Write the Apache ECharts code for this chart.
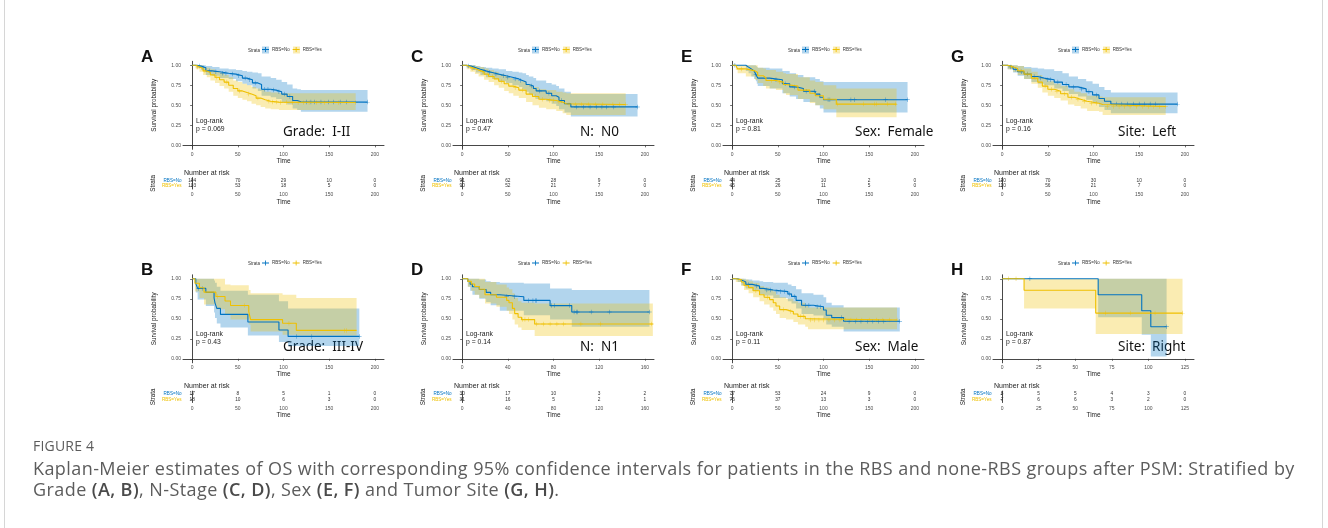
<!DOCTYPE html>
<html>
<head>
<meta charset="utf-8">
<title>Figure 4 - Kaplan-Meier OS after PSM</title>
<script src="https://cdn.jsdelivr.net/npm/echarts@6/dist/echarts.min.js"></script>
<style>
body{margin:0;background:#fff;}
#wrap{position:relative;width:1328px;height:528px;overflow:hidden;}
#main{position:absolute;left:0;top:0;width:1328px;height:528px;}
#frame{position:absolute;left:4px;top:-4px;width:1319px;height:545px;border:1px solid #d6d6d6;border-radius:4px;box-sizing:border-box;}
#caption{position:absolute;left:33px;top:436px;font-family:"Open Sans",sans-serif;color:#5c5c5c;white-space:nowrap;}
#caption .fig{font-size:14px;letter-spacing:0.2px;line-height:20px;}
#caption .txt{font-size:18px;letter-spacing:0.42px;line-height:20.5px;margin-top:2px;}
#caption b{font-weight:600;color:#4a4a4a;}
</style>
</head>
<body>
<div id="wrap">
  <div id="frame"></div>
  <div id="main"></div>
  <div id="caption">
    <div class="fig">FIGURE 4</div>
    <div class="txt">Kaplan-Meier estimates of OS with corresponding 95% confidence intervals for patients in the RBS and none-RBS groups after PSM: Stratified by<br>Grade <b>(A, B)</b>, N-Stage <b>(C, D)</b>, Sex <b>(E, F)</b> and Tumor Site <b>(G, H)</b>.</div>
  </div>
</div>
<script>
// ---- data ----
var strata = ['RBS=No', 'RBS=Yes'];
var ticks200 = [0, 50, 100, 150, 200];
var ticks160 = [0, 40, 80, 120, 160];
var ticks125 = [0, 25, 50, 75, 100, 125];
var yTicks = [0, 0.25, 0.5, 0.75, 1];
var panelKeys = ['A', 'B', 'C', 'D', 'E', 'F', 'G', 'H'];
var groupLabels = ['Grade:  I-II', 'Grade:  III-IV', 'N:  N0', 'N:  N1', 'Sex:  Female', 'Sex:  Male', 'Site:  Left', 'Site:  Right'];
var pValues = ['p = 0.069', 'p = 0.43', 'p = 0.47', 'p = 0.14', 'p = 0.81', 'p = 0.11', 'p = 0.16', 'p = 0.87'];

// A: Grade I-II
var A_no = [[0,1],[5,0.99],[10,0.97],[15,0.93],[22,0.92],[30,0.90],[40,0.89],[48,0.87],[55,0.84],[60,0.82],[66,0.78],[72,0.76],[76,0.70],[86,0.69],[92,0.67],[98,0.64],[104,0.61],[110,0.56],[115,0.545],[119,0.54],[192,0.54]];
var A_noCens = [8,12,19,26,33,37,44,51,58,63,69,79,83,89,95,101,107,125,130,134,141,149,155,162,169,192];
var A_noCI = [[5,0.97,1],[10,0.94,1],[15,0.88,0.99],[22,0.87,0.98],[30,0.84,0.96],[40,0.83,0.95],[48,0.80,0.94],[55,0.77,0.93],[60,0.75,0.92],[66,0.71,0.91],[72,0.68,0.90],[76,0.62,0.86],[86,0.60,0.84],[92,0.58,0.82],[98,0.54,0.79],[104,0.51,0.76],[110,0.46,0.71],[115,0.44,0.70],[119,0.42,0.69],[192,0.42,0.69]];
var A_yes = [[0,1],[4,0.98],[8,0.96],[12,0.93],[16,0.91],[20,0.88],[25,0.85],[30,0.82],[35,0.79],[40,0.75],[45,0.71],[50,0.68],[55,0.66],[60,0.64],[65,0.62],[70,0.59],[75,0.57],[80,0.55],[86,0.54],[95,0.535],[179,0.535]];
var A_yesCens = [6,14,27,38,52,62,72,84,88,92,97,103,110,116,122,128,136,145,160,179];
var A_yesCI = [[4,0.95,1],[8,0.92,1],[12,0.88,0.98],[16,0.85,0.97],[20,0.81,0.95],[25,0.78,0.93],[30,0.74,0.91],[35,0.71,0.88],[40,0.67,0.85],[45,0.62,0.81],[50,0.59,0.79],[55,0.57,0.77],[60,0.55,0.75],[65,0.52,0.73],[70,0.50,0.71],[75,0.48,0.69],[80,0.46,0.67],[86,0.45,0.66],[95,0.44,0.65],[179,0.44,0.65]];
var A_riskNo = [104,70,29,10,0];
var A_riskYes = [103,53,18,5,0];

// B: Grade III-IV
var B_no = [[0,1],[4,0.94],[6,0.88],[15,0.83],[24,0.76],[25,0.70],[27,0.63],[31,0.555],[61,0.46],[95,0.36],[105,0.28],[183,0.28]];
var B_noCens = [7,11,114,131,183];
var B_noCI = [[4,0.83,1],[6,0.74,1],[15,0.66,1],[24,0.58,0.98],[25,0.51,0.95],[27,0.44,0.90],[31,0.39,0.85],[61,0.29,0.80],[95,0.21,0.72],[105,0.16,0.63],[183,0.16,0.63]];
var B_yes = [[0,1],[3,0.944],[8,0.889],[13,0.833],[26,0.778],[36,0.722],[42,0.667],[62,0.59],[64,0.49],[99,0.445],[114,0.355],[180,0.355]];
var B_yesCens = [28,57,106,167,169];
var B_yesCI = [[3,0.84,1],[8,0.76,1],[13,0.68,1],[26,0.62,1],[36,0.55,0.93],[42,0.49,0.92],[62,0.43,0.86],[64,0.34,0.82],[99,0.30,0.80],[114,0.29,0.76],[180,0.29,0.76]];
var B_riskNo = [17,8,5,1,0];
var B_riskYes = [18,10,6,3,0];

// C: N0
var C_no = [[0,1],[5,0.99],[10,0.97],[15,0.95],[20,0.93],[26,0.91],[33,0.89],[40,0.87],[48,0.85],[55,0.83],[62,0.81],[66,0.79],[70,0.76],[73,0.74],[78,0.71],[81,0.68],[92,0.65],[98,0.62],[103,0.60],[106,0.56],[112,0.52],[119,0.48],[192,0.48]];
var C_noCens = [7,13,24,30,37,45,50,58,64,76,85,95,109,125,133,140,147,153,158,166,192];
var C_noCI = [[5,0.97,1],[10,0.94,1],[15,0.91,0.99],[20,0.88,0.98],[26,0.85,0.97],[33,0.83,0.96],[40,0.80,0.95],[48,0.78,0.93],[55,0.75,0.92],[62,0.73,0.91],[66,0.70,0.90],[70,0.67,0.88],[73,0.64,0.86],[78,0.61,0.84],[81,0.58,0.81],[92,0.55,0.78],[98,0.52,0.76],[103,0.49,0.74],[106,0.45,0.71],[112,0.41,0.67],[119,0.36,0.64],[192,0.36,0.64]];
var C_yes = [[0,1],[5,0.98],[9,0.96],[14,0.94],[18,0.92],[24,0.89],[29,0.86],[35,0.83],[40,0.80],[46,0.77],[51,0.74],[56,0.72],[62,0.69],[70,0.64],[77,0.61],[84,0.575],[92,0.56],[103,0.54],[110,0.52],[114,0.51],[179,0.51]];
var C_yesCens = [11,22,33,43,58,66,80,88,96,100,106,117,124,131,138,146,154,165,172,179];
var C_yesCI = [[5,0.95,1],[9,0.92,1],[14,0.89,0.99],[18,0.86,0.98],[24,0.82,0.96],[29,0.79,0.94],[35,0.75,0.92],[40,0.72,0.89],[46,0.68,0.87],[51,0.65,0.84],[56,0.62,0.82],[62,0.59,0.80],[70,0.54,0.76],[77,0.50,0.73],[84,0.47,0.70],[92,0.45,0.69],[103,0.43,0.67],[110,0.40,0.66],[114,0.38,0.65],[179,0.38,0.65]];
var C_riskNo = [91,62,28,9,0];
var C_riskYes = [90,52,21,7,0];

// D: N1
var D_no = [[0,1],[5,0.967],[7,0.933],[9,0.90],[15,0.867],[21,0.83],[25,0.80],[33,0.775],[54,0.73],[77,0.665],[96,0.585],[164,0.585]];
var D_noCens = [39,46,58,62,64,65,78,81,94,98,100,101,113,129,164];
var D_noCI = [[5,0.90,1],[7,0.85,1],[9,0.80,1],[15,0.75,0.99],[21,0.71,0.97],[25,0.67,0.96],[33,0.60,0.95],[54,0.545,0.94],[77,0.49,0.88],[96,0.40,0.86],[164,0.40,0.86]];
var D_yes = [[0,1],[5,0.968],[8,0.935],[11,0.903],[15,0.87],[20,0.80],[30,0.77],[39,0.73],[41,0.70],[44,0.63],[46,0.565],[49,0.52],[52,0.49],[63.5,0.435],[167,0.435]];
var D_yesCens = [53,55,58,65,71,77,83,89,104,121,166];
var D_yesCI = [[5,0.90,1],[8,0.85,1],[11,0.80,1],[15,0.76,1],[20,0.69,0.96],[30,0.65,0.93],[39,0.60,0.89],[41,0.56,0.87],[44,0.49,0.82],[46,0.43,0.76],[49,0.39,0.72],[52,0.36,0.70],[63.5,0.285,0.69],[167,0.285,0.69]];
var D_riskNo = [30,17,10,3,2];
var D_riskYes = [31,16,5,2,1];

// E: Female
var E_no = [[0,1],[15,0.977],[18,0.955],[21,0.93],[24,0.91],[26,0.885],[27,0.86],[28,0.84],[41,0.82],[55,0.77],[63,0.73],[70,0.71],[78,0.675],[91,0.64],[96,0.60],[100,0.57],[192,0.57]];
var E_noCens = [3,26,48,58,68,81,90,105,107,130,134,168,192];
var E_noCI = [[15,0.93,1],[18,0.90,1],[21,0.86,1],[24,0.83,1],[26,0.80,0.99],[27,0.77,0.98],[28,0.74,0.97],[41,0.71,0.96],[55,0.65,0.93],[63,0.61,0.90],[70,0.58,0.88],[78,0.54,0.85],[91,0.50,0.83],[96,0.46,0.80],[100,0.41,0.79],[192,0.41,0.79]];
var E_yes = [[0,1],[4,0.978],[6,0.955],[15,0.93],[25,0.91],[28,0.87],[34,0.845],[37,0.81],[48,0.79],[56,0.76],[59,0.74],[72,0.69],[85,0.65],[91,0.62],[100,0.575],[114,0.515],[180,0.515]];
var E_yesCens = [10,43,52,78,115,144,156,158,170,179];
var E_yesCI = [[4,0.94,1],[6,0.90,1],[15,0.86,1],[25,0.82,1],[28,0.78,0.97],[34,0.74,0.96],[37,0.71,0.94],[48,0.69,0.92],[56,0.65,0.90],[59,0.63,0.89],[72,0.58,0.85],[85,0.53,0.81],[91,0.50,0.79],[100,0.45,0.75],[114,0.35,0.71],[180,0.35,0.71]];
var E_riskNo = [44,25,10,2,0];
var E_riskYes = [45,26,11,5,0];

// F: Male
var F_no = [[0,1],[6,0.985],[10,0.96],[15,0.93],[22,0.91],[30,0.88],[34,0.86],[45,0.84],[61,0.81],[65,0.78],[70,0.73],[76,0.67],[89,0.65],[100,0.61],[103,0.545],[109,0.515],[122,0.47],[183.5,0.47]];
var F_noCens = [18,27,38,42,49,53,57,63,68,80,84,93,97,120,128,135,141,148,154,160,166,183.5];
var F_noCI = [[6,0.96,1],[10,0.92,1],[15,0.88,0.99],[22,0.85,0.98],[30,0.81,0.97],[34,0.79,0.96],[45,0.76,0.95],[61,0.72,0.93],[65,0.69,0.91],[70,0.63,0.87],[76,0.56,0.82],[89,0.54,0.80],[100,0.50,0.77],[103,0.43,0.70],[109,0.40,0.67],[122,0.34,0.64],[183.5,0.34,0.64]];
var F_yes = [[0,1],[4,0.99],[10,0.96],[13,0.92],[18,0.89],[23,0.85],[30,0.80],[35,0.77],[41,0.74],[45,0.70],[48,0.66],[52,0.615],[59,0.59],[67,0.56],[72,0.53],[80,0.50],[83,0.485],[180.5,0.485]];
var F_yesCens = [15,26,39,56,64,75,78,86,90,95,100,106,112,118,124,130,136,142,150,158,165,172,180.5];
var F_yesCI = [[4,0.96,1],[10,0.91,1],[13,0.86,0.99],[18,0.82,0.97],[23,0.77,0.95],[30,0.72,0.91],[35,0.68,0.89],[41,0.64,0.87],[45,0.60,0.84],[48,0.56,0.80],[52,0.51,0.77],[59,0.49,0.75],[67,0.46,0.72],[72,0.43,0.70],[80,0.40,0.67],[83,0.37,0.64],[180.5,0.37,0.64]];
var F_riskNo = [77,53,24,9,0];
var F_riskYes = [76,37,13,3,0];

// G: Left
var G_no = [[0,1],[6,0.98],[12,0.95],[17,0.92],[24,0.89],[32,0.86],[39,0.84],[46,0.82],[57,0.79],[66,0.76],[73,0.73],[83,0.705],[92,0.67],[99,0.63],[106,0.585],[112,0.55],[119,0.515],[192,0.515]];
var G_noCens = [9,15,21,28,35,42,50,53,61,70,78,87,95,103,125,131,137,144,150,156,162,168,192];
var G_noCI = [[6,0.95,1],[12,0.91,1],[17,0.87,0.99],[24,0.83,0.98],[32,0.79,0.97],[39,0.77,0.96],[46,0.75,0.95],[57,0.71,0.93],[66,0.68,0.90],[73,0.64,0.86],[83,0.61,0.83],[92,0.57,0.80],[99,0.53,0.77],[106,0.48,0.73],[112,0.44,0.69],[119,0.40,0.66],[192,0.40,0.66]];
var G_yes = [[0,1],[6,0.98],[12,0.96],[17,0.93],[24,0.89],[32,0.84],[39,0.79],[44,0.74],[50,0.70],[57,0.675],[64,0.645],[72,0.60],[79,0.575],[86,0.55],[93,0.525],[106,0.51],[110,0.485],[179,0.485]];
var G_yesCens = [10,20,28,36,47,54,60,68,76,83,90,98,103,115,122,128,134,140,147,154,160,166,172,179];
var G_yesCI = [[6,0.95,1],[12,0.92,1],[17,0.88,0.99],[24,0.83,0.96],[32,0.77,0.92],[39,0.72,0.88],[44,0.66,0.84],[50,0.62,0.80],[57,0.59,0.77],[64,0.56,0.74],[72,0.51,0.70],[79,0.49,0.67],[86,0.46,0.65],[93,0.43,0.62],[106,0.42,0.61],[110,0.38,0.60],[179,0.38,0.60]];
var G_riskNo = [110,70,30,10,0];
var G_riskYes = [110,56,21,7,0];

// H: Right
var H_no = [[0,1],[65.7,0.80],[95.5,0.60],[101.7,0.40],[112.5,0.40]];
var H_noCens = [19,112.5];
var H_noCI = [[65.7,0.52,1],[95.5,0.30,1],[101.7,0.03,1],[112.5,0.03,1]];
var H_yes = [[0,1],[15,0.857],[64,0.571],[123.4,0.571]];
var H_yesCens = [4.5,9.5,70.6,87.6,104.6,123.4];
var H_yesCI = [[15,0.63,1],[64,0.31,1],[123.4,0.31,1]];
var H_riskNo = [8,5,5,4,3,0];
var H_riskYes = [7,6,6,3,2,0];

var panelData = [
  {no: A_no, yes: A_yes, noCens: A_noCens, yesCens: A_yesCens, noCI: A_noCI, yesCI: A_yesCI, riskNo: A_riskNo, riskYes: A_riskYes, ticks: ticks200},
  {no: B_no, yes: B_yes, noCens: B_noCens, yesCens: B_yesCens, noCI: B_noCI, yesCI: B_yesCI, riskNo: B_riskNo, riskYes: B_riskYes, ticks: ticks200},
  {no: C_no, yes: C_yes, noCens: C_noCens, yesCens: C_yesCens, noCI: C_noCI, yesCI: C_yesCI, riskNo: C_riskNo, riskYes: C_riskYes, ticks: ticks200},
  {no: D_no, yes: D_yes, noCens: D_noCens, yesCens: D_yesCens, noCI: D_noCI, yesCI: D_yesCI, riskNo: D_riskNo, riskYes: D_riskYes, ticks: ticks160},
  {no: E_no, yes: E_yes, noCens: E_noCens, yesCens: E_yesCens, noCI: E_noCI, yesCI: E_yesCI, riskNo: E_riskNo, riskYes: E_riskYes, ticks: ticks200},
  {no: F_no, yes: F_yes, noCens: F_noCens, yesCens: F_yesCens, noCI: F_noCI, yesCI: F_yesCI, riskNo: F_riskNo, riskYes: F_riskYes, ticks: ticks200},
  {no: G_no, yes: G_yes, noCens: G_noCens, yesCens: G_yesCens, noCI: G_noCI, yesCI: G_yesCI, riskNo: G_riskNo, riskYes: G_riskYes, ticks: ticks200},
  {no: H_no, yes: H_yes, noCens: H_noCens, yesCens: H_yesCens, noCI: H_noCI, yesCI: H_yesCI, riskNo: H_riskNo, riskYes: H_riskYes, ticks: ticks125}
];

// ---- layout ----
var blue = '#0073C2', yellow = '#EFC000';
var blueFill = 'rgba(0,115,194,0.3)', yellowFill = 'rgba(239,192,0,0.3)';
var colX = [183, 453, 723, 993];
var rowY = [0, 213.5];
var labelDx = [100, 127, 132, 125];
var font = '"Liberation Sans", Arial, sans-serif';
var plusIcon = 'path://M0,4.4h10v1.2h-10z M4.4,1.5h1.2v7h-1.2z';
var censorIcon = 'path://M0,4.5h10v1h-10z M4.5,0h1v10h-1z';

function survAt(curve, t) {
  var s = 1;
  for (var i = 0; i < curve.length; i++) if (curve[i][0] <= t) s = curve[i][1];
  return s;
}

function band(ci, idx, fill) {
  return {
    type: 'custom', xAxisIndex: idx, yAxisIndex: idx, data: ci, clip: true, silent: true,
    encode: {x: 0, y: [1, 2]},
    renderItem: function (params, api) {
      if (params.dataIndex !== 0) return null;
      var top = [], bot = [];
      for (var i = 0; i < ci.length; i++) {
        var t1 = i + 1 < ci.length ? ci[i + 1][0] : ci[i][0];
        top.push(api.coord([ci[i][0], ci[i][2]]), api.coord([t1, ci[i][2]]));
        bot.push(api.coord([ci[i][0], ci[i][1]]), api.coord([t1, ci[i][1]]));
      }
      return {type: 'polygon', shape: {points: top.concat(bot.reverse())}, style: {fill: fill}};
    }
  };
}

// numbers at risk, placed through the table's own axes
function riskText(ticks, counts, rowName, idx) {
  return {
    type: 'custom', xAxisIndex: idx, yAxisIndex: idx, silent: true,
    data: ticks.map(function (t, i) { return [t, rowName, counts[i]]; }),
    encode: {x: 0, y: 1},
    renderItem: function (params, api) {
      var pt = api.coord([api.value(0), api.value(1)]);
      return {type: 'text', x: pt[0], y: pt[1],
        style: {text: String(counts[params.dataIndex]), fill: '#333', font: '4.8px ' + font,
          align: 'center', verticalAlign: 'middle'}};
    }
  };
}

var grid = [], xAxis = [], yAxis = [], series = [], legend = [], graphic = [];

panelData.forEach(function (d, p) {
  var col = Math.floor(p / 2), row = p % 2;
  var left = colX[col], off = rowY[row];
  var xmax = d.ticks[d.ticks.length - 1];
  var km = 2 * p, rt = 2 * p + 1;

  grid.push({left: left, top: 61.3 + off, width: 201, height: 88});
  grid.push({left: left, top: 177.6 + off, width: 201, height: 11.4});

  [km, rt].forEach(function (g) {
    xAxis.push({
      gridIndex: g, type: 'value', min: -0.05 * xmax, max: 1.05 * xmax,
      splitLine: {show: false},
      axisLine: {lineStyle: {color: '#333', width: 0.9}},
      axisTick: {customValues: d.ticks, length: 2, lineStyle: {color: '#333', width: 0.7}},
      axisLabel: {customValues: d.ticks, fontSize: 5, color: '#4d4d4d', margin: g === km ? 2.5 : 3.5, fontFamily: font},
      name: 'Time', nameLocation: 'middle', nameGap: g === km ? 8 : 9.5,
      nameTextStyle: {fontSize: 6.5, color: '#222', fontFamily: font}
    });
  });

  yAxis.push({
    gridIndex: km, type: 'value', min: -0.05, max: 1.05,
    splitLine: {show: false},
    axisLine: {lineStyle: {color: '#333', width: 0.9}},
    axisTick: {customValues: yTicks, length: 2, lineStyle: {color: '#333', width: 0.7}},
    axisLabel: {customValues: yTicks, fontSize: 5, color: '#4d4d4d', margin: 2, fontFamily: font,
      formatter: function (v) { return v.toFixed(2); }},
    name: 'Survival probability', nameLocation: 'middle', nameGap: 26, nameRotate: 90,
    nameTextStyle: {fontSize: 6.3, color: '#222', fontFamily: font}
  });
  yAxis.push({
    gridIndex: rt, type: 'category', data: ['RBS=Yes', 'RBS=No'],
    axisLine: {lineStyle: {color: '#333', width: 0.9}},
    axisTick: {show: true, length: 1.5, alignWithLabel: true, interval: 0, lineStyle: {color: '#333', width: 0.7}},
    axisLabel: {fontSize: 4.6, margin: 1.5, interval: 0, hideOverlap: false, fontFamily: font,
      color: function (v) { return v === 'RBS=No' ? blue : yellow; }},
    name: 'Strata', nameLocation: 'middle', nameGap: 27, nameRotate: 90,
    nameTextStyle: {fontSize: 6.3, color: '#222', fontFamily: font}
  });

  // curves, censor marks, then the confidence ribbons on top (as in the figure)
  [[d.no, d.noCens, blue, strata[0]], [d.yes, d.yesCens, yellow, strata[1]]].forEach(function (s) {
    series.push({
      type: 'line', name: s[3], step: 'end', data: s[0], xAxisIndex: km, yAxisIndex: km,
      showSymbol: false, symbol: 'none', silent: true,
      lineStyle: {color: s[2], width: 1.1}, itemStyle: {color: s[2]}
    });
    series.push({
      type: 'scatter', data: s[1].map(function (t) { return [t, survAt(s[0], t)]; }),
      xAxisIndex: km, yAxisIndex: km, symbol: censorIcon, symbolSize: 4.5, silent: true,
      itemStyle: {color: s[2]}
    });
  });
  series.push(band(d.noCI, km, blueFill));
  series.push(band(d.yesCI, km, yellowFill));

  // number at risk table
  series.push(riskText(d.ticks, d.riskNo, 'RBS=No', rt));
  series.push(riskText(d.ticks, d.riskYes, 'RBS=Yes', rt));

  legend.push({
    left: left + 79, top: 47 + off, itemWidth: 7, itemHeight: 6, itemGap: 3, padding: 0,
    selectedMode: false, textStyle: {fontSize: 4.5, color: '#333', fontFamily: font, padding: [0, 0, 0, -2]},
    data: [{name: strata[0], icon: plusIcon, itemStyle: {color: blue}},
           {name: strata[1], icon: plusIcon, itemStyle: {color: yellow}}]
  });

  // top-row legend keys sit on a light fill box
  if (row === 0) {
    graphic.push(
      {type: 'rect', left: left + 79, top: 46.5, silent: true, z: 0,
        shape: {width: 7, height: 7}, style: {fill: blueFill}},
      {type: 'rect', left: left + 110, top: 46.5, silent: true, z: 0,
        shape: {width: 7, height: 7}, style: {fill: yellowFill}}
    );
  }

  graphic.push(
    {type: 'text', left: left - 42, top: 48.5 + off, silent: true,
      style: {text: panelKeys[p], font: 'bold 17px "Liberation Sans", Arial, sans-serif', fill: '#111'}},
    {type: 'text', left: left + 65, top: 47.8 + off, silent: true,
      style: {text: 'Strata', font: '4.5px ' + font, fill: '#333'}},
    {type: 'text', left: left + 13, top: 117.2 + off, silent: true,
      style: {text: 'Log-rank\n' + pValues[p], font: '6.8px ' + font, fill: '#222', lineHeight: 7.8}},
    {type: 'text', left: left + labelDx[col], top: 125 + off + row * 2, silent: true,
      style: {text: groupLabels[p], font: '13.5px "Noto Sans", sans-serif', fill: '#111'}},
    {type: 'text', left: left + 1, top: 169.5 + off, silent: true,
      style: {text: 'Number at risk', font: '7px ' + font, fill: '#222'}}
  );
});

var chart = echarts.init(document.getElementById('main'), null, {renderer: 'canvas'});
chart.setOption({
  animation: false,
  backgroundColor: 'transparent',
  grid: grid, xAxis: xAxis, yAxis: yAxis, legend: legend, series: series, graphic: graphic
});
</script>
</body>
</html>
